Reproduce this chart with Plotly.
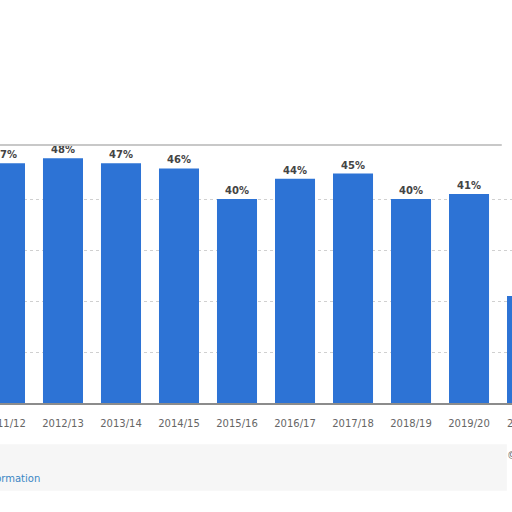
import plotly.graph_objects as go

# Seasons and share values (percent)
seasons = ["2011/12", "2012/13", "2013/14", "2014/15", "2015/16",
           "2016/17", "2017/18", "2018/19", "2019/20", "2020/21"]
shares = [47, 48, 47, 46, 40, 44, 45, 40, 41, 21]
labels = [f"<b>{v}%</b>" for v in shares]

x_pos = list(range(len(seasons)))

fig = go.Figure()

fig.add_trace(go.Bar(
    x=x_pos,
    y=shares,
    width=0.69,
    marker=dict(color="#2d73d5", line=dict(width=0)),
    text=labels,
    textposition="outside",
    textfont=dict(family="DejaVu Sans", size=10, color="#444444"),
    cliponaxis=False,
    hoverinfo="skip",
))

fig.update_layout(
    width=512,
    height=512,
    margin=dict(l=0, r=0, t=145, b=109, autoexpand=False),
    paper_bgcolor="white",
    plot_bgcolor="white",
    showlegend=False,
    xaxis=dict(
        range=[-0.086, 8.741],
        tickvals=x_pos,
        ticktext=seasons,
        automargin=False,
        ticklabeloverflow="allow",
        showgrid=False,
        zeroline=False,
        showline=True,
        linecolor="#8c8c8c",
        linewidth=2,
        ticks="",
        ticklabelstandoff=10,
        tickfont=dict(family="DejaVu Sans", size=10, color="#666666"),
    ),
    yaxis=dict(
        range=[0, 50.6],
        tickvals=[10, 20, 30, 40],
        automargin=False,
        showticklabels=False,
        showgrid=True,
        gridcolor="#d0d0d0",
        griddash="dot",
        gridwidth=1,
        zeroline=False,
    ),
    shapes=[
        # top border of the chart box
        dict(type="line", xref="paper", yref="paper", x0=0, x1=0.98, y0=1, y1=1,
             line=dict(color="#c8c8c8", width=2)),
        # soft grey band under the axis labels
        dict(type="rect", xref="paper", yref="paper", x0=0, x1=0.99, y0=-0.34, y1=-0.16,
             fillcolor="#f6f6f6", line=dict(width=0), layer="below"),
    ],
    annotations=[
        dict(text="2020/21", xref="paper", yref="paper", x=505 / 512, y=-0.078,
             xanchor="left", yanchor="middle", showarrow=False,
             font=dict(family="DejaVu Sans", size=10, color="#666666")),
        dict(text="Additional Information", xref="paper", yref="paper", x=42 / 512, y=-0.292,
             xanchor="right", yanchor="middle", showarrow=False,
             font=dict(family="DejaVu Sans", size=10, color="#3a86c4")),
        dict(text="© Statista 2021", xref="paper", yref="paper", x=505 / 512, y=-0.205,
             xanchor="left", yanchor="middle", showarrow=False,
             font=dict(family="DejaVu Sans", size=10, color="#666666")),
    ],
)

# drop the default page margin so the figure sits at the window's top-left corner
fig.write_html("out.html", config={"displayModeBar": False},
               post_script="document.body.style.margin = '0';")
